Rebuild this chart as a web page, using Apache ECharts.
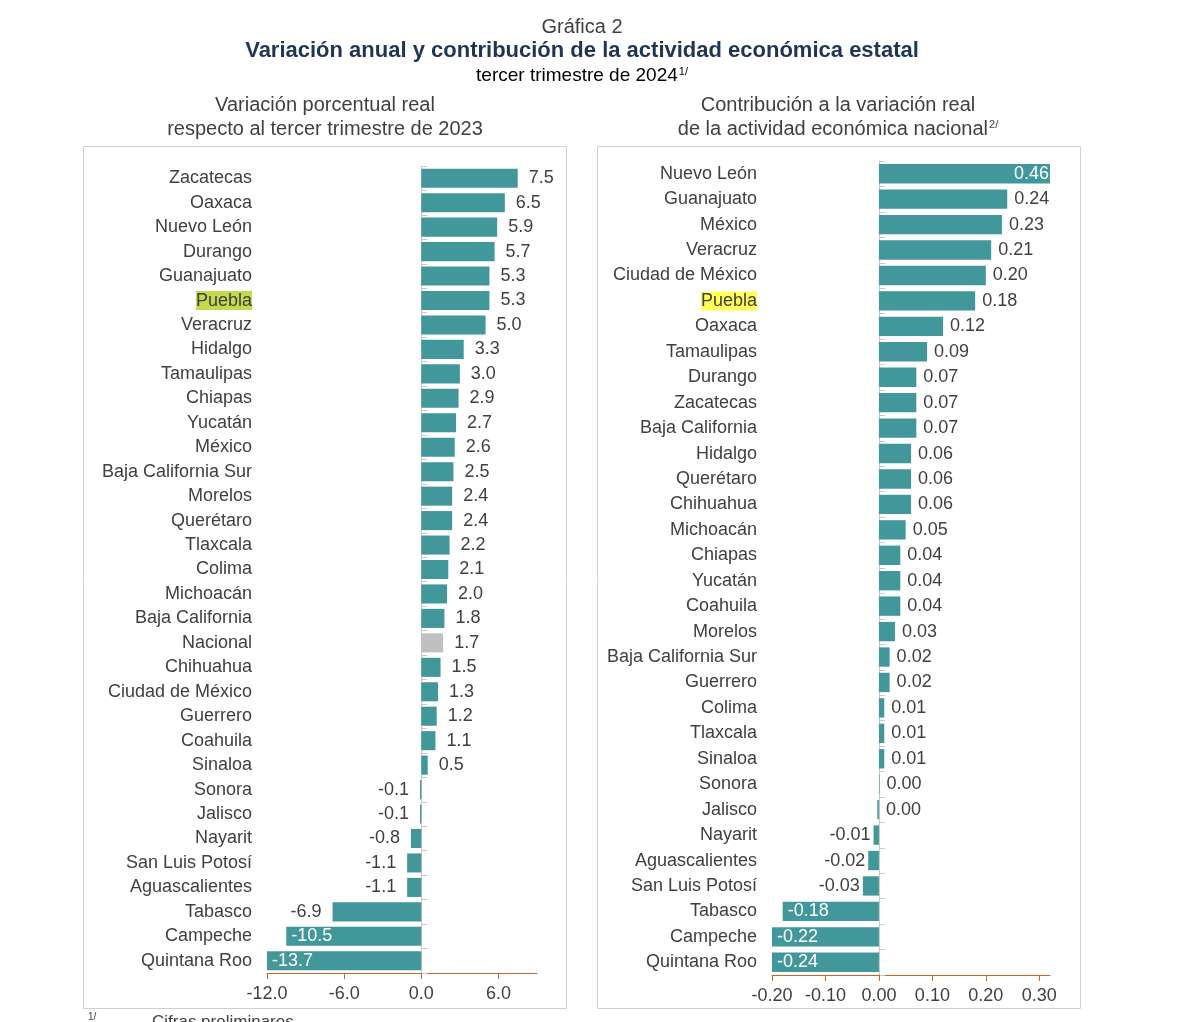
<!DOCTYPE html>
<html>
<head>
<meta charset="utf-8">
<script src="https://cdn.jsdelivr.net/npm/echarts@6/dist/echarts.min.js"></script>
<style>
  html, body { margin: 0; padding: 0; background: #fff; }
  #chart { width: 1200px; height: 1022px; }
</style>
</head>
<body>
<div id="chart"></div>
<script>
// variación porcentual real (izquierda)
var leftStates = ['Zacatecas', 'Oaxaca', 'Nuevo León', 'Durango', 'Guanajuato', 'Puebla', 'Veracruz',
    'Hidalgo', 'Tamaulipas', 'Chiapas', 'Yucatán', 'México', 'Baja California Sur', 'Morelos',
    'Querétaro', 'Tlaxcala', 'Colima', 'Michoacán', 'Baja California', 'Nacional', 'Chihuahua',
    'Ciudad de México', 'Guerrero', 'Coahuila', 'Sinaloa', 'Sonora', 'Jalisco', 'Nayarit',
    'San Luis Potosí', 'Aguascalientes', 'Tabasco', 'Campeche', 'Quintana Roo'];
var leftValues = [7.5, 6.5, 5.9, 5.7, 5.3, 5.3, 5.0, 3.3, 3.0, 2.9, 2.7, 2.6, 2.5, 2.4, 2.4, 2.2, 2.1,
    2.0, 1.8, 1.7, 1.5, 1.3, 1.2, 1.1, 0.5, -0.1, -0.1, -0.8, -1.1, -1.1, -6.9, -10.5, -13.7];
var leftTicks = [-12, -6, 0, 6];

// contribución a la variación nacional (derecha)
var rightStates = ['Nuevo León', 'Guanajuato', 'México', 'Veracruz', 'Ciudad de México', 'Puebla',
    'Oaxaca', 'Tamaulipas', 'Durango', 'Zacatecas', 'Baja California', 'Hidalgo', 'Querétaro',
    'Chihuahua', 'Michoacán', 'Chiapas', 'Yucatán', 'Coahuila', 'Morelos', 'Baja California Sur',
    'Guerrero', 'Colima', 'Tlaxcala', 'Sinaloa', 'Sonora', 'Jalisco', 'Nayarit', 'Aguascalientes',
    'San Luis Potosí', 'Tabasco', 'Campeche', 'Quintana Roo'];
var rightValues = [0.46, 0.24, 0.23, 0.21, 0.20, 0.18, 0.12, 0.09, 0.07, 0.07, 0.07, 0.06, 0.06,
    0.06, 0.05, 0.04, 0.04, 0.04, 0.03, 0.02, 0.02, 0.01, 0.01, 0.01, 0.001, -0.003, -0.01, -0.02,
    -0.03, -0.18, -0.22, -0.24];
var rightTicks = [-0.2, -0.1, 0, 0.1, 0.2, 0.3];

var teal = '#42979a';
var txt = '#404040';
var font = 'Liberation Sans, Arial, sans-serif';

// etiquetas que van dentro de la barra (blancas)
var leftInside = ['Campeche', 'Quintana Roo'];
var rightInside = ['Nuevo León', 'Tabasco', 'Campeche', 'Quintana Roo'];

function fmt2(v) {
    var s = v.toFixed(2);
    return s === '-0.00' ? '0.00' : s;
}

function barData(states, values, inside, dec) {
    return values.map(function (v, i) {
        var name = states[i];
        var s = dec === 1 ? v.toFixed(1) : fmt2(v);
        var lab;
        if (inside.indexOf(name) >= 0) {
            lab = {position: v < 0 ? 'insideLeft' : 'insideRight', color: '#fff', distance: v < 0 ? 5 : 1};
        } else if (Number(s) < 0) {
            lab = {position: 'left', color: txt, distance: dec === 1 ? 11 : 3};
        } else {
            lab = {position: 'right', color: txt, distance: dec === 1 ? 11 : 7};
        }
        lab.formatter = s;
        return {
            value: v,
            itemStyle: {color: name === 'Nacional' ? '#c0c0c0' : teal},
            label: lab
        };
    });
}

function catLabels(hl) {
    return {
        fontSize: 18, color: txt, fontFamily: font, margin: 15,
        formatter: function (v) { return v === 'Puebla' ? '{hl|' + v + '}' : v; },
        rich: {hl: {backgroundColor: hl, fontSize: 18, color: txt, fontFamily: font, padding: [1, 0, 0, 0]}}
    };
}

function valueAxis(idx, min, max, ticks, dec) {
    return {
        type: 'value', gridIndex: idx, min: min, max: max,
        splitLine: {show: false},
        axisLine: {show: true, onZero: false, lineStyle: {color: '#c8662a', width: 1}},
        axisTick: {show: true, length: 6, customValues: ticks, lineStyle: {color: '#c8662a'}},
        axisLabel: {
            customValues: ticks, fontSize: 18, color: txt, fontFamily: font, margin: 12,
            formatter: function (v) { return v.toFixed(dec); }
        }
    };
}

function catAxes(idx, data, hl) {
    return [{
        type: 'category', gridIndex: idx, data: data, inverse: true,
        axisLine: {show: false, onZero: false}, axisTick: {show: false},
        axisLabel: catLabels(hl)
    }, {
        type: 'category', gridIndex: idx, data: data, inverse: true,
        axisLine: {show: true, onZero: true, lineStyle: {color: '#c8c8c8'}},
        axisTick: {show: true, inside: false, length: 6, lineStyle: {color: '#c8c8c8'}},
        axisLabel: {show: false}
    }];
}

var chart = echarts.init(document.getElementById('chart'));
chart.setOption({
    backgroundColor: '#fff',
    animation: false,
    grid: [
        {left: 267, right: 663, top: 166, bottom: 49},
        {left: 772, right: 150, top: 161, bottom: 47}
    ],
    xAxis: [
        valueAxis(0, -12, 9, leftTicks, 1),
        valueAxis(1, -0.2, 0.32, rightTicks, 2)
    ],
    yAxis: catAxes(0, leftStates, '#c3d94e').concat(catAxes(1, rightStates, '#ffff55')),
    series: [{
        type: 'bar', xAxisIndex: 0, yAxisIndex: 0, barCategoryGap: '22%',
        label: {show: true, fontSize: 18, fontFamily: font},
        data: barData(leftStates, leftValues, leftInside, 1)
    }, {
        type: 'bar', xAxisIndex: 1, yAxisIndex: 2, barCategoryGap: '24%',
        label: {show: true, fontSize: 18, fontFamily: font},
        data: barData(rightStates, rightValues, rightInside, 2)
    }],
    graphic: [
        {type: 'rect', shape: {x: 83.5, y: 146.5, width: 483, height: 862}, z: -1,
            style: {fill: 'none', stroke: '#d0d0d0', lineWidth: 1}},
        {type: 'rect', shape: {x: 597.5, y: 146.5, width: 483, height: 862}, z: -1,
            style: {fill: 'none', stroke: '#d0d0d0', lineWidth: 1}},
        {type: 'text', x: 582, y: 27, style: {text: 'Gráfica 2', font: '20px ' + font, fill: txt,
            textAlign: 'center', textVerticalAlign: 'middle'}},
        {type: 'text', x: 582, y: 51, style: {text: 'Variación anual y contribución de la actividad económica estatal',
            font: 'bold 22px ' + font, fill: '#1f3556', textAlign: 'center', textVerticalAlign: 'middle'}},
        {type: 'text', x: 582, y: 76, style: {text: 'tercer trimestre de 2024{sup|1/}',
            font: '19px ' + font, fill: '#000', textAlign: 'center', textVerticalAlign: 'middle',
            rich: {sup: {fontSize: 11, fontFamily: font, fill: '#000', verticalAlign: 'top', padding: [0, 0, 8, 1]}}}},
        {type: 'text', x: 325, y: 117, style: {text: 'Variación porcentual real\nrespecto al tercer trimestre de 2023',
            font: '20px ' + font, fill: txt, textAlign: 'center', textVerticalAlign: 'middle', lineHeight: 24}},
        {type: 'text', x: 838, y: 105, style: {text: 'Contribución a la variación real',
            font: '20px ' + font, fill: txt, textAlign: 'center', textVerticalAlign: 'middle'}},
        {type: 'text', x: 838, y: 129, style: {text: 'de la actividad económica nacional{sup|2/}',
            font: '20px ' + font, fill: txt, textAlign: 'center', textVerticalAlign: 'middle',
            rich: {sup: {fontSize: 11, fontFamily: font, fill: txt, verticalAlign: 'top', padding: [0, 0, 8, 1]}}}},
        {type: 'text', x: 88, y: 1012, style: {text: '1/', font: '10px ' + font, fill: txt}},
        {type: 'text', x: 152, y: 1014, style: {text: 'Cifras preliminares', font: '17px ' + font, fill: txt}}
    ]
});
</script>
</body>
</html>
